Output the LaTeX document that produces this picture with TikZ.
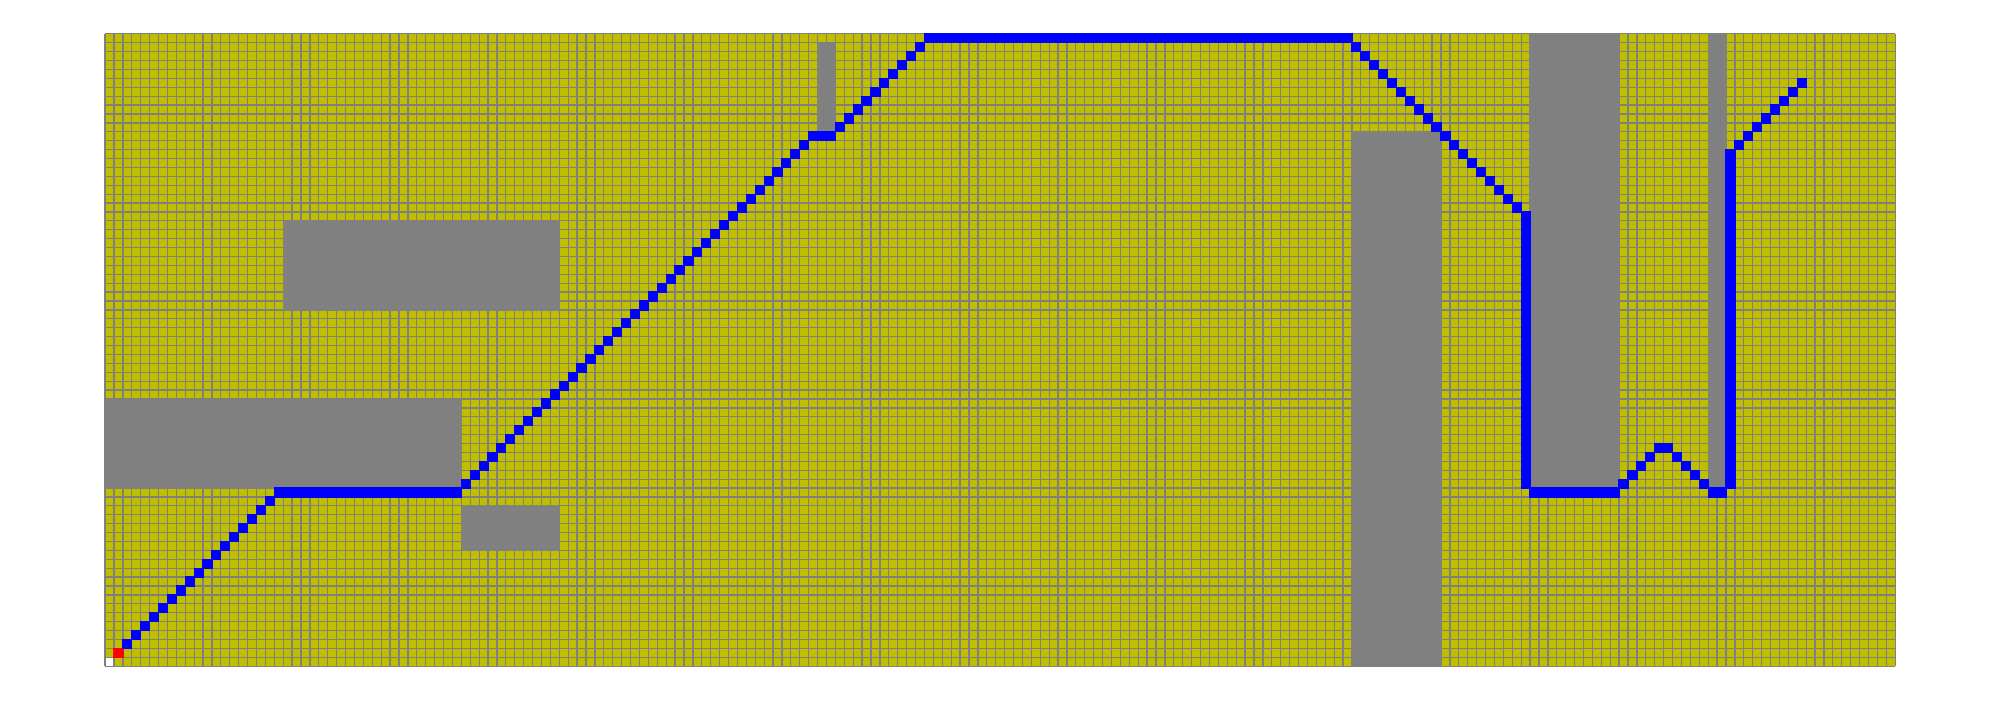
\documentclass[tikz,border=0pt]{standalone}
\definecolor{cellyellow}{RGB}{191,191,0}
\definecolor{gridgray}{RGB}{128,128,128}
\definecolor{obstgray}{RGB}{128,128,128}
\begin{document}
\begin{tikzpicture}[x=1mm,y=1mm,
  pathcell/.style={fill=blue,draw=blue,line width=0.4pt},
  startcell/.style={fill=red,draw=red,line width=0.4pt},
  wall/.style={fill=obstgray},
  gridline/.style={draw=gridgray,line width=0.4pt}]
\useasboundingbox[fill=white] (-11.8,-3.8) rectangle (212.77,74.8);
% free cells
\fill[cellyellow] (0,0) rectangle (201,71);
\fill[white] (0,0) rectangle (1,1);
% obstacles
\fill[wall] (0,20) rectangle (40,30);
\fill[wall] (20,40) rectangle (51,50);
\fill[wall] (40,13) rectangle (51,18);
\fill[wall] (80,60) rectangle (82,70);
\fill[wall] (140,0) rectangle (150,60);
\fill[wall] (160,20) rectangle (170,71);
\fill[wall] (180,20) rectangle (182,71);
% grid
\draw[gridline,step=1] (0,0) grid (201,71);
% start
\path[startcell] (1,1) rectangle ++(1,1);
% path
\foreach \k in {2,...,18} {\path[pathcell] (\k,\k) rectangle ++(1,1);}
\path[pathcell] (19,19) rectangle (40,20);
\foreach \k in {0,...,39} {\path[pathcell] ({40+\k},{20+\k}) rectangle ++(1,1);}
\path[pathcell] (80,59) rectangle (82,60);
\foreach \k in {0,...,9} {\path[pathcell] ({82+\k},{60+\k}) rectangle ++(1,1);}
\path[pathcell] (92,70) rectangle (140,71);
\foreach \k in {0,...,19} {\path[pathcell] ({140+\k},{69-\k}) rectangle ++(1,1);}
\path[pathcell] (159,20) rectangle (160,51);
\path[pathcell] (160,19) rectangle (170,20);
\foreach \k in {0,...,3} {\path[pathcell] ({170+\k},{20+\k}) rectangle ++(1,1);}
\path[pathcell] (174,24) rectangle (176,25);
\foreach \k in {0,...,3} {\path[pathcell] ({176+\k},{23-\k}) rectangle ++(1,1);}
\path[pathcell] (180,19) rectangle (182,20);
\path[pathcell] (182,20) rectangle (183,58);
\foreach \k in {0,...,7} {\path[pathcell] ({183+\k},{58+\k}) rectangle ++(1,1);}
\end{tikzpicture}
\end{document}
